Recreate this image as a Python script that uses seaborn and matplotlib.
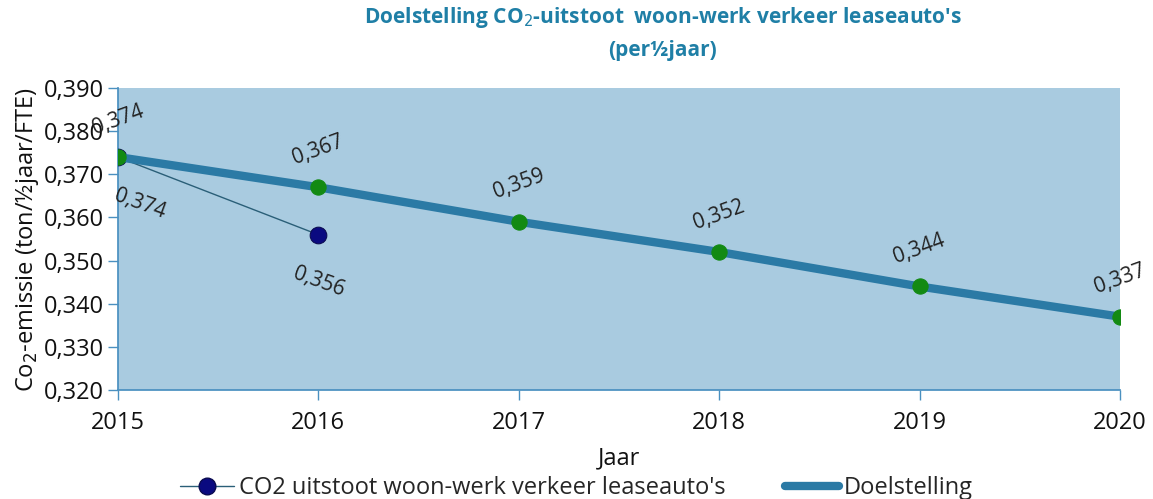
import numpy as np
import pandas as pd
import seaborn as sns
import matplotlib.pyplot as plt
from matplotlib.lines import Line2D
from matplotlib.ticker import FuncFormatter

sns.set_theme(style="white")
plt.rcParams['font.family'] = ['Open Sans', 'DejaVu Sans']

years = [2015, 2016, 2017, 2018, 2019, 2020]
doel = [0.374, 0.367, 0.359, 0.352, 0.344, 0.337]
actual_years = [2015, 2016]
actual = [0.374, 0.356]

df_doel = pd.DataFrame({"jaar": years, "waarde": doel})
df_act = pd.DataFrame({"jaar": actual_years, "waarde": actual})

fig = plt.figure(figsize=(11.53, 4.99), dpi=100)
ax = fig.add_axes([0.1023, 0.2184, 0.869, 0.6052])
ax.set_facecolor("#a9cbe0")

sns.lineplot(data=df_act, x="jaar", y="waarde", ax=ax, color="#2a5f78", linewidth=1,
             marker="o", markersize=12, markerfacecolor="#0a0a80", markeredgecolor="#0a0a50",
             zorder=3)
sns.lineplot(data=df_doel, x="jaar", y="waarde", ax=ax, color="#2b7aa5", linewidth=6,
             marker="o", markersize=11, markerfacecolor="#138a13", markeredgecolor="#138a13",
             zorder=4)

fmt = lambda v: f"{v:.3f}".replace(".", ",")
for x, y in zip(years, doel):
    ax.annotate(fmt(y), (x, y), xytext=(0, 27), textcoords="offset points",
                ha="center", va="center", rotation=20, fontsize=15, color="#222222")
for x, y in zip(actual_years, actual):
    dx = 16 if x == 2015 else 0
    ax.annotate(fmt(y), (x, y), xytext=(dx, -34), textcoords="offset points",
                ha="center", va="center", rotation=-20, fontsize=15, color="#222222")

ax.set_xlim(2015, 2020)
ax.set_ylim(0.320, 0.390)
ax.set_xticks(years)
ax.set_yticks(np.arange(0.320, 0.3901, 0.010))
ax.yaxis.set_major_formatter(FuncFormatter(lambda v, p: fmt(v)))
ax.tick_params(axis="both", labelsize=17, colors="#4a90c0", labelcolor="#111111",
               direction="out", length=7, width=1, bottom=True, left=True, pad=3)
ax.tick_params(axis="x", pad=8)
for s in ["top", "right"]:
    ax.spines[s].set_visible(False)
for s in ["left", "bottom"]:
    ax.spines[s].set_color("#4a90c0")

ax.set_xlabel("Jaar", fontsize=17, color="#111111", labelpad=8)
ax.set_ylabel(r"Co$_2$-emissie (ton/½jaar/FTE)", fontsize=17, color="#111111", labelpad=2)

fig.suptitle("Doelstelling CO$_2$-uitstoot  woon-werk verkeer leaseauto's\n(per½jaar)",
             x=0.575, y=0.99, fontsize=15, fontweight="bold", color="#1f7fa6", linespacing=1.6)

handles = [
    Line2D([0], [0], color="#2a5f78", linewidth=1, marker="o", markersize=12,
           markerfacecolor="#0a0a80", markeredgecolor="#0a0a50"),
    Line2D([0], [0], color="#2b7aa5", linewidth=6),
]
fig.legend(handles, ["CO2 uitstoot woon-werk verkeer leaseauto's", "Doelstelling"],
           loc="lower center", bbox_to_anchor=(0.5, -0.045), ncol=2, frameon=False,
           fontsize=17, handlelength=2.3, handletextpad=0.2, columnspacing=2.5)

fig.savefig("out.png", dpi=100)
